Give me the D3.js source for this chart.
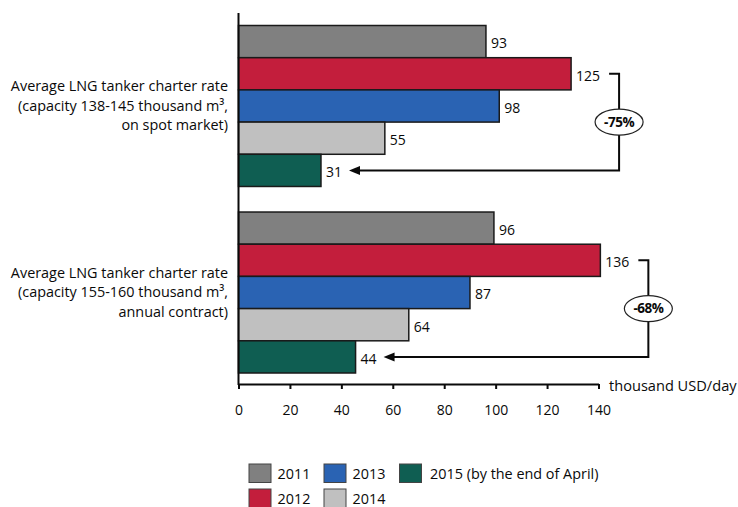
<!DOCTYPE html>
<html>
<head>
<meta charset="utf-8">
<script src="https://cdn.jsdelivr.net/npm/d3@7"></script>
<style>
  html, body { margin: 0; padding: 0; background: #fff; }
  svg { display: block; font-family: "Open Sans", "Noto Sans", sans-serif; }
</style>
</head>
<body>
<svg id="chart" width="738" height="507"></svg>
<script>
// ---- data ----
const categories = [
  ["Average LNG tanker charter rate", "(capacity 138-145 thousand m³,", "on spot market)"],
  ["Average LNG tanker charter rate", "(capacity 155-160 thousand m³,", "annual contract)"]
];
const years = ["2011", "2012", "2013", "2014", "2015"];
const legendLabels = ["2011", "2012", "2013", "2014", "2015 (by the end of April)"];
const spotValues = [93, 125, 98, 55, 31];
const contractValues = [96, 136, 87, 64, 44];
const changeLabels = ["-75%", "-68%"];
const tickValues = [0, 20, 40, 60, 80, 100, 120, 140];
const unitLabel = "thousand USD/day";
const colors = ["#808080", "#c31e3c", "#2a63b3", "#c0c0c0", "#0f5e52"];

const seriesByCategory = [spotValues, contractValues];

const svg = d3.select("#chart");
const ink = "#0a0a0a";

// scales
const x = d3.scaleLinear().domain([0, 140]).range([238.5, 611]);       // bars
const xAxisScale = d3.scaleLinear().domain([0, 140]).range([238.5, 598.5]); // drawn axis
const y0 = d3.scaleBand().domain(d3.range(categories.length)).range([25.5, 373]).paddingInner(0.137);
const y1 = d3.scaleBand().domain(years).range([0, y0.bandwidth()]).padding(0);
const color = d3.scaleOrdinal().domain(years).range(colors);

// bars
categories.forEach((cat, ci) => {
  const g = svg.append("g").attr("transform", `translate(0,${y0(ci)})`);
  const vals = seriesByCategory[ci];
  g.selectAll("rect").data(years).join("rect")
    .attr("x", x(0))
    .attr("y", d => y1(d))
    .attr("width", (d, i) => x(vals[i]) - x(0))
    .attr("height", y1.bandwidth())
    .attr("fill", d => color(d))
    .attr("stroke", "#1a1a1a")
    .attr("stroke-width", 1.5);
  g.selectAll("text.val").data(years).join("text")
    .attr("class", "val")
    .attr("x", (d, i) => x(vals[i]) + 5)
    .attr("y", d => y1(d) + y1.bandwidth() / 2 + 2)
    .attr("dy", "0.35em")
    .attr("font-size", 14)
    .attr("fill", ink)
    .text((d, i) => vals[i]);

  // category label
  const t = svg.append("text")
    .attr("text-anchor", "end")
    .attr("font-size", 14.4)
    .attr("fill", ink);
  const cy = y0(ci) + y0.bandwidth() / 2;
  cat.forEach((line, li) => {
    t.append("tspan").attr("x", 228).attr("y", cy - 20 + li * 19.5).attr("dy", "0.35em").text(line);
  });

  // bracket + arrow
  const maxIdx = 1, lastIdx = 4;
  const yTop = y0(ci) + y1(years[maxIdx]) + y1.bandwidth() / 2;
  const yBot = y0(ci) + y1(years[lastIdx]) + y1.bandwidth() / 2;
  const xStart = x(vals[maxIdx]) + 38;
  const xV = x(vals[maxIdx]) + 48;
  const xTip = x(vals[lastIdx]) + 28;
  svg.append("path")
    .attr("d", `M${xStart},${yTop}H${xV}V${yBot}H${xTip + 9}`)
    .attr("fill", "none").attr("stroke", ink).attr("stroke-width", 2);
  svg.append("path")
    .attr("d", `M${xTip},${yBot}L${xTip + 11},${yBot - 4.5}L${xTip + 11},${yBot + 4.5}Z`)
    .attr("fill", ink);
  const ey = (yTop + yBot) / 2;
  svg.append("ellipse")
    .attr("cx", xV).attr("cy", ey).attr("rx", 24).attr("ry", 13)
    .attr("fill", "#fff").attr("stroke", "#222").attr("stroke-width", 1.2);
  svg.append("text")
    .attr("x", xV).attr("y", ey).attr("dy", "0.35em")
    .attr("text-anchor", "middle").attr("font-size", 13.5).attr("font-weight", "bold")
    .attr("letter-spacing", -0.5)
    .attr("fill", ink)
    .text(changeLabels[ci]);
});

// y axis line
svg.append("line")
  .attr("x1", x(0)).attr("x2", x(0)).attr("y1", 13).attr("y2", 385)
  .attr("stroke", ink).attr("stroke-width", 2);

// x axis
const axisG = svg.append("g").attr("transform", "translate(0,384)")
  .call(d3.axisBottom(xAxisScale).tickValues(tickValues).tickSize(5).tickPadding(16).tickSizeOuter(0));
axisG.select(".domain").attr("stroke", ink).attr("stroke-width", 2);
axisG.selectAll(".tick line").attr("stroke", ink).attr("stroke-width", 2);
axisG.selectAll(".tick text")
  .attr("font-family", "\"Open Sans\", \"Noto Sans\", sans-serif")
  .attr("font-size", 14).attr("fill", ink);

svg.append("text")
  .attr("x", 609).attr("y", 386).attr("dy", "0.35em")
  .attr("font-size", 14.6).attr("fill", ink)
  .text(unitLabel);

// legend
const legendPos = [[249, 464], [249, 489], [324, 464], [324, 489], [399.5, 464]];
legendLabels.forEach((lab, i) => {
  const [lx, ly] = legendPos[i];
  svg.append("rect")
    .attr("x", lx).attr("y", ly).attr("width", 22).attr("height", 18.5)
    .attr("fill", color(years[i])).attr("stroke", "#444").attr("stroke-width", 1);
  svg.append("text")
    .attr("x", lx + (i === 4 ? 30.5 : 28.5)).attr("y", ly + 9.5).attr("dy", "0.35em")
    .attr("font-size", 14.4).attr("fill", ink)
    .text(lab);
});
</script>
</body>
</html>
